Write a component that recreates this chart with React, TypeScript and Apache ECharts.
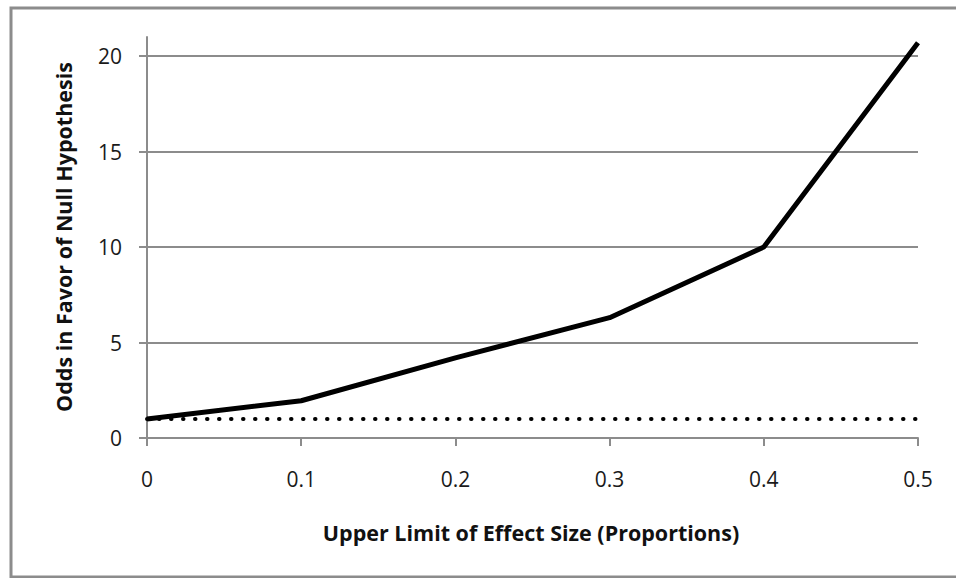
import React, { useEffect, useRef } from "react";
import * as echarts from "echarts";

const effectSizes = [0, 0.1, 0.2, 0.3, 0.4, 0.5];
const oddsValues = [1.0, 1.95, 4.2, 6.3, 10.0, 20.7];
const referenceX = [0, 0.5];
const referenceValues = [1, 1];
const yTickValues = [0, 5, 10, 15, 20];

const xTitle = "Upper Limit of Effect Size (Proportions)";
const yTitle = "Odds in Favor of Null Hypothesis";

const FONT = "'Open Sans', sans-serif";
const GRAY = "#8c8c8c";

export default function App() {
  const ref = useRef<HTMLDivElement>(null);
  useEffect(() => {
    if (!ref.current) return;
    const chart = echarts.init(ref.current, null, { renderer: "svg" });
    chart.setOption({
      animation: false,
      backgroundColor: "#ffffff",
      grid: { left: 147, right: 38, top: 37, bottom: 140 },
      graphic: [
        {
          type: "rect",
          shape: { x: 11, y: 8, width: 1000, height: 569 },
          style: { fill: "none", stroke: GRAY, lineWidth: 3 },
          silent: true,
          z: 0,
        },
        {
          type: "text",
          x: 531,
          y: 532,
          style: {
            text: xTitle,
            font: `bold 21.5px ${FONT}`,
            fill: "#111",
            textAlign: "center",
            textVerticalAlign: "middle",
          },
        },
        {
          type: "text",
          x: 63,
          y: 237,
          rotation: Math.PI / 2,
          style: {
            text: yTitle,
            font: `bold 21.5px ${FONT}`,
            fill: "#111",
            textAlign: "center",
            textVerticalAlign: "middle",
          },
        },
      ],
      xAxis: {
        type: "value",
        min: 0,
        max: 0.5,
        interval: 0.1,
        axisLine: { show: true, lineStyle: { color: GRAY, width: 2 } },
        axisTick: { show: true, inside: false, length: 8, lineStyle: { color: GRAY, width: 2 } },
        axisLabel: { color: "#1a1a1a", fontSize: 21, fontFamily: FONT, margin: 30 },
        splitLine: { show: false },
      },
      yAxis: {
        type: "value",
        min: 0,
        max: 21,
        interval: 5,
        axisLine: { show: true, lineStyle: { color: GRAY, width: 2 } },
        axisTick: {
          show: true,
          inside: false,
          length: 8,
          customValues: yTickValues,
          lineStyle: { color: GRAY, width: 2 },
        },
        axisLabel: {
          color: "#1a1a1a",
          fontSize: 21,
          fontFamily: FONT,
          margin: 25,
          customValues: yTickValues,
        },
        splitLine: { show: true, lineStyle: { color: GRAY, width: 2 } },
      },
      series: [
        {
          type: "line",
          data: referenceX.map((x, i) => [x, referenceValues[i]]),
          symbol: "none",
          lineStyle: { color: "#000", width: 4, type: [0.5, 11.5], cap: "round" },
          z: 2,
        },
        {
          type: "line",
          data: effectSizes.map((x, i) => [x, oddsValues[i]]),
          symbol: "none",
          lineStyle: { color: "#000", width: 5 },
          z: 3,
        },
      ],
    });
    return () => chart.dispose();
  }, []);
  return (
    <div
      ref={ref}
      style={{ position: "fixed", left: 0, top: 0, width: 956, height: 578 }}
    />
  );
}
